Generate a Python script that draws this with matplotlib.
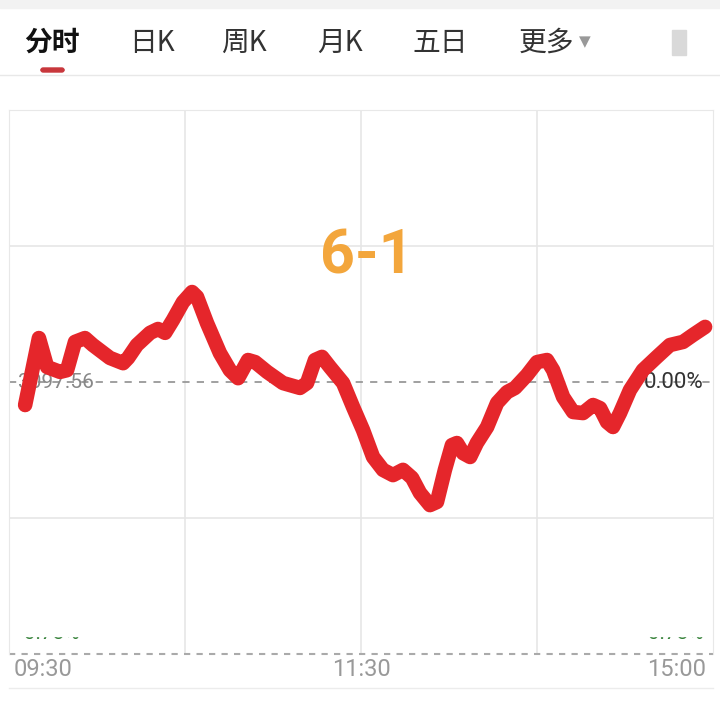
import numpy as np
import matplotlib
matplotlib.use("Agg")
import matplotlib.pyplot as plt
from matplotlib.patches import Rectangle, FancyBboxPatch

plt.rcParams['font.family'] = ['Noto Sans CJK SC', 'DejaVu Sans']

# --- Δεδομένα ---
tabs = ["分时", "日K", "周K", "月K", "五日", "更多"]
time_labels = ["09:30", "11:30", "15:00"]
base_price = "3097.56"
pct_label = "0.00%"
low_label = "-0.78%"
title = "6-1"

# λεπτά από 09:30 (0..240) και μεταβολή %
minutes = [5.5, 10.2, 13.0, 17.4, 19.8, 22.5, 25.9, 28.6, 34.4, 38.9, 40.6, 43.6,
           48.1, 50.8, 53.2, 55.9, 59.3, 62.4, 64.1, 67.5, 71.9, 75.3, 78.1, 81.5,
           83.9, 88.0, 93.4, 99.2, 101.6, 104.3, 106.7, 109.4, 113.9, 117.3, 120.7,
           124.1, 127.5, 130.9, 134.3, 137.4, 140.1, 143.5, 145.9, 148.6, 151.0,
           152.7, 154.8, 157.2, 159.5, 163.0, 166.4, 169.8, 172.5, 176.6, 180.0,
           183.4, 185.5, 188.9, 192.3, 195.7, 199.1, 201.5, 203.9, 205.9, 208.3,
           211.7, 216.1, 220.9, 225.3, 229.8, 233.2, 237.3]
pct = [-0.066, 0.126, 0.043, 0.029, 0.034, 0.115, 0.126, 0.106, 0.069, 0.054, 0.069,
       0.106, 0.141, 0.152, 0.141, 0.178, 0.229, 0.258, 0.244, 0.169, 0.083, 0.034,
       0.011, 0.063, 0.057, 0.029, -0.003, -0.017, -0.003, 0.063, 0.072, 0.043,
       -0.003, -0.072, -0.138, -0.215, -0.252, -0.267, -0.252, -0.275, -0.318,
       -0.353, -0.344, -0.252, -0.181, -0.175, -0.204, -0.215, -0.175, -0.129,
       -0.060, -0.029, -0.017, 0.020, 0.057, 0.063, 0.034, -0.043, -0.086, -0.089,
       -0.066, -0.075, -0.115, -0.129, -0.089, -0.023, 0.034, 0.072, 0.106, 0.115,
       0.135, 0.158]

W, H = 720, 707
fig = plt.figure(figsize=(W / 100, H / 100), dpi=100)
fig.patch.set_facecolor("white")

def fx(px):
    return px / W

def fy(py):
    return 1 - py / H

# --- Επάνω μπάρα ---
fig.patches.append(Rectangle((0, fy(8)), 1, 8 / H, transform=fig.transFigure,
                             color="#f2f2f2", zorder=0))
tab_x = [24, 129, 221, 317, 412, 519]
for i, (t, x) in enumerate(zip(tabs, tab_x)):
    fig.text(fx(x), fy(43), t, fontsize=20, va="center", ha="left",
             color="#111111" if i == 0 else "#333333",
             weight="bold" if i == 0 else "normal")
fig.text(fx(579), fy(42), "▼", fontsize=11, va="center", ha="left",
         color="#999999", family="DejaVu Sans")
fig.patches.append(FancyBboxPatch((fx(41), fy(72)), 23 / W, 4 / H,
                                  boxstyle="round,pad=0,rounding_size=0.003",
                                  transform=fig.transFigure, color="#c8373c"))
fig.patches.append(Rectangle((fx(672), fy(55)), 14 / W, 25 / H,
                             transform=fig.transFigure, color="#d9d9d9"))
fig.lines.append(plt.Line2D([0, 1], [fy(75), fy(75)], transform=fig.transFigure,
                            color="#e8e8e8", lw=1))

# --- Γράφημα ---
ax = fig.add_axes([fx(9), fy(654), 704 / W, 544 / H])
ax.set_xlim(0, 240)
ax.set_ylim(-0.78, 0.78)
for x in [60, 120, 180]:
    ax.axvline(x, color="#e6e6e6", lw=1.2, zorder=1)
for y in [-0.39, 0.39]:
    ax.axhline(y, color="#e6e6e6", lw=1.2, zorder=1)
ax.axhline(0, color="#999999", lw=1.3, ls=(0, (4, 4)), zorder=1)
ax.axhline(-0.78, color="#aaaaaa", lw=1.5, ls=(0, (3, 3)), zorder=1, clip_on=False)
for s in ["left", "right", "top"]:
    ax.spines[s].set_color("#e8e8e8")
ax.spines["bottom"].set_visible(False)
ax.set_xticks([])
ax.set_yticks([])

ax.text(0.013, 0.0, base_price, transform=ax.get_yaxis_transform(), fontsize=15,
        va="center", ha="left", color="#888888", family="Roboto", zorder=2)
ax.text(0.987, 0.0, pct_label, transform=ax.get_yaxis_transform(), fontsize=16,
        va="center", ha="right", color="#333333", family="Roboto", zorder=2)

ax.plot(minutes, pct, color="#e5262b", lw=10.5, solid_capstyle="round",
        solid_joinstyle="round", zorder=3)

ax.text(0.508, 0.73, title, transform=ax.transAxes, fontsize=44, weight="bold",
        color="#f3a63c", ha="center", va="center", family="Roboto")

# πράσινες ετικέτες κάτω, μισοκρυμμένες
ax.text(0.013, 0.02, low_label, transform=ax.transAxes, fontsize=15,
        color="#2e7d32", ha="left", va="bottom", family="Roboto", zorder=2)
ax.text(0.987, 0.02, low_label, transform=ax.transAxes, fontsize=15,
        color="#2e7d32", ha="right", va="bottom", family="Roboto", zorder=2)
fig.patches.append(Rectangle((fx(12), fy(636)), 90 / W, 30 / H,
                             transform=fig.transFigure, color="white", zorder=5))
fig.patches.append(Rectangle((fx(620), fy(636)), 90 / W, 30 / H,
                             transform=fig.transFigure, color="white", zorder=5))

# --- Ετικέτες χρόνου ---
fig.text(fx(14), fy(670), time_labels[0], fontsize=17, color="#999999",
         ha="left", va="center", family="Roboto")
fig.text(fx(361), fy(670), time_labels[1], fontsize=17, color="#999999",
         ha="center", va="center", family="Roboto")
fig.text(fx(706), fy(670), time_labels[2], fontsize=17, color="#999999",
         ha="right", va="center", family="Roboto")
fig.lines.append(plt.Line2D([fx(9), fx(713)], [fy(688), fy(688)],
                            transform=fig.transFigure, color="#ececec", lw=1))

fig.savefig("out.png", dpi=100)
